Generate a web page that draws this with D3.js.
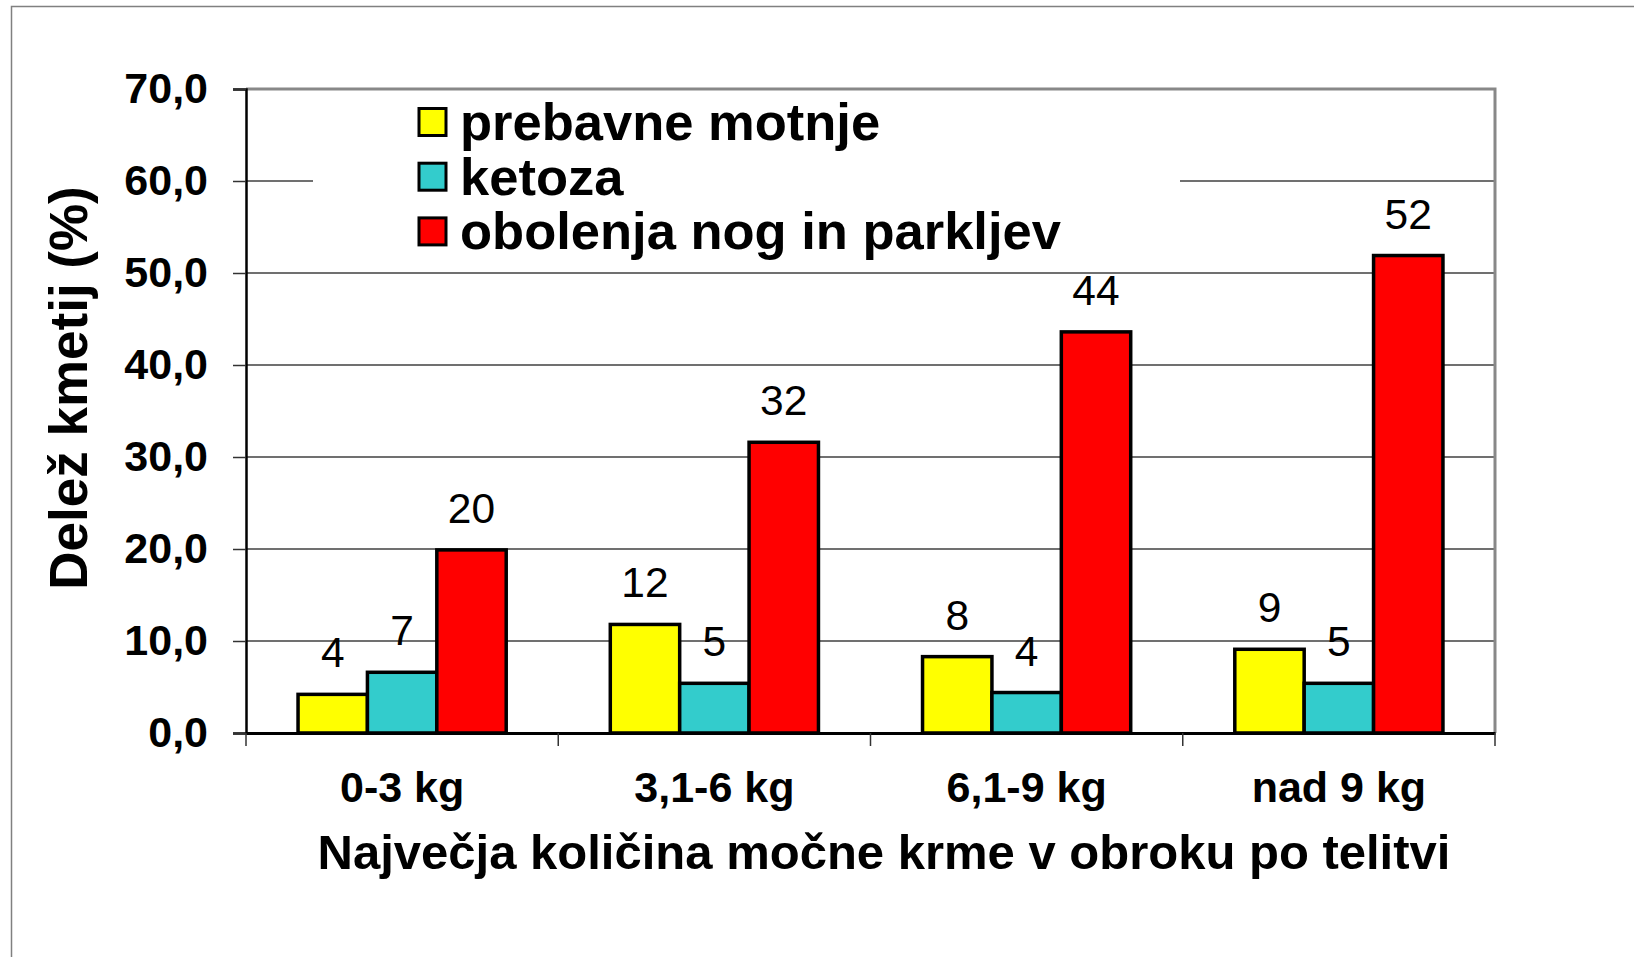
<!DOCTYPE html>
<html>
<head>
<meta charset="utf-8">
<script src="https://cdn.jsdelivr.net/npm/d3@7"></script>
<style>
  html, body { margin: 0; padding: 0; background: #fff; }
  svg { display: block; font-family: "Liberation Sans", Arial, sans-serif; }
</style>
</head>
<body>
<svg width="1634" height="957"></svg>
<script>
const categories = ['0-3 kg', '3,1-6 kg', '6,1-9 kg', 'nad 9 kg'];
const series = ['prebavne motnje', 'ketoza', 'obolenja nog in parkljev'];
const prebavne = [4.2, 11.8, 8.3, 9.1];
const ketoza = [6.6, 5.4, 4.4, 5.4];
const obolenja = [19.9, 31.6, 43.6, 51.9];
const yTicks = [0, 10, 20, 30, 40, 50, 60, 70];
const colors = ['#FFFF00', '#33CCCC', '#FF0000'];

const values = [prebavne, ketoza, obolenja];
const data = [];
categories.forEach((c, i) => {
  series.forEach((s, j) => {
    data.push({ cat: c, series: s, value: values[j][i], color: colors[j] });
  });
});

const svg = d3.select('svg');

// outer frame
svg.append('path')
  .attr('d', 'M11.5,957 V6.5 H1634')
  .attr('fill', 'none')
  .attr('stroke', '#808080')
  .attr('stroke-width', 1.5);

const margin = { top: 89, left: 246, right: 1495, bottom: 733 };

const x0 = d3.scaleBand()
  .domain(categories)
  .range([margin.left, margin.right]);

const x1 = d3.scaleBand()
  .domain(series)
  .range([0, x0.bandwidth()])
  .paddingOuter(0.75);

const y = d3.scaleLinear()
  .domain([0, 70])
  .range([margin.bottom, margin.top]);

// gridlines
const gridG = svg.append('g');
gridG.selectAll('line').data(yTicks.filter(d => d > 0 && d < 70))
  .enter().append('line')
  .attr('x1', margin.left)
  .attr('x2', margin.right)
  .attr('y1', d => y(d))
  .attr('y2', d => y(d))
  .attr('stroke', '#404040')
  .attr('stroke-width', 1.3);

// plot frame top / right
svg.append('path')
  .attr('d', `M${margin.left},${margin.top} H${margin.right} V${margin.bottom}`)
  .attr('fill', 'none')
  .attr('stroke', '#888')
  .attr('stroke-width', 3);

// legend box
const legendG = svg.append('g');
legendG.append('rect')
  .attr('x', 313)
  .attr('y', 96)
  .attr('width', 867)
  .attr('height', 162)
  .attr('fill', '#fff');
series.forEach((s, i) => {
  const cy = 122 + i * 54.7;
  legendG.append('rect')
    .attr('x', 419)
    .attr('y', cy - 13.5)
    .attr('width', 27)
    .attr('height', 27)
    .attr('fill', colors[i])
    .attr('stroke', '#000')
    .attr('stroke-width', 3);
  legendG.append('text')
    .attr('x', 460)
    .attr('y', cy + 18)
    .attr('font-size', 52.5)
    .attr('font-weight', 'bold')
    .text(s);
});

// bars
svg.append('g').selectAll('rect').data(data)
  .enter().append('rect')
  .attr('x', d => x0(d.cat) + x1(d.series))
  .attr('y', d => y(d.value))
  .attr('width', x1.bandwidth())
  .attr('height', d => y(0) - y(d.value))
  .attr('fill', d => d.color)
  .attr('stroke', '#000')
  .attr('stroke-width', 3.5);

// data labels
svg.append('g').selectAll('text').data(data)
  .enter().append('text')
  .attr('x', d => x0(d.cat) + x1(d.series) + x1.bandwidth() / 2)
  .attr('y', d => y(d.value) - 27)
  .attr('text-anchor', 'middle')
  .attr('font-size', 42.5)
  .text(d => Math.round(d.value));

// y axis
const yAxis = d3.axisLeft(y)
  .tickValues(yTicks)
  .tickSize(13)
  .tickPadding(25)
  .tickFormat(d => d3.format('.1f')(d).replace('.', ','));

const yAxisG = svg.append('g')
  .attr('transform', `translate(${margin.left},0)`)
  .call(yAxis);
yAxisG.select('.domain').attr('stroke', '#000').attr('stroke-width', 2.5);
yAxisG.selectAll('.tick line').attr('stroke', '#333').attr('stroke-width', 1.5);
yAxisG.selectAll('.tick text')
  .attr('font-size', 43)
  .attr('font-weight', 'bold')
  .attr('font-family', '"Liberation Sans", Arial, sans-serif')
  .attr('fill', '#000');

// x axis
const xAxis = d3.axisBottom(x0)
  .tickSize(0)
  .tickPadding(38);
const xAxisG = svg.append('g')
  .attr('transform', `translate(0,${margin.bottom})`)
  .call(xAxis);
xAxisG.select('.domain').attr('stroke', '#000').attr('stroke-width', 3);
xAxisG.selectAll('.tick text')
  .attr('font-size', 43)
  .attr('font-weight', 'bold')
  .attr('font-family', '"Liberation Sans", Arial, sans-serif')
  .attr('fill', '#000');

// boundary tick marks between categories
const bounds = categories.map(c => x0(c)).concat([margin.right]);
xAxisG.selectAll('.bound').data(bounds)
  .enter().append('line')
  .attr('class', 'bound')
  .attr('x1', d => d)
  .attr('x2', d => d)
  .attr('y1', 0)
  .attr('y2', 13)
  .attr('stroke', '#333')
  .attr('stroke-width', 1.5);

// axis titles
svg.append('text')
  .attr('x', 884)
  .attr('y', 869)
  .attr('text-anchor', 'middle')
  .attr('font-size', 49)
  .attr('font-weight', 'bold')
  .text('Največja količina močne krme v obroku po telitvi');

svg.append('text')
  .attr('transform', 'translate(87,388) rotate(-90)')
  .attr('text-anchor', 'middle')
  .attr('font-size', 53)
  .attr('font-weight', 'bold')
  .text('Delež kmetij (%)');
</script>
</body>
</html>
